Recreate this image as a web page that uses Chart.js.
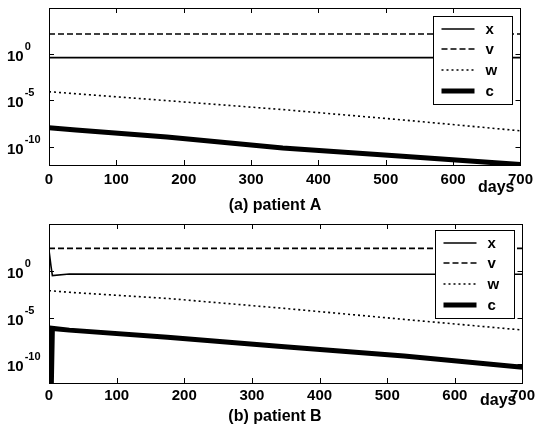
<!DOCTYPE html>
<html>
<head>
<meta charset="utf-8">
<script src="https://cdn.jsdelivr.net/npm/chart.js@4.4.1/dist/chart.umd.min.js"></script>
<style>
html,body{margin:0;padding:0;background:#fff;}
#wrap{width:539px;height:435px;}
canvas{display:block;}
</style>
</head>
<body>
<div id="wrap">
<canvas id="cA" width="539" height="217"></canvas>
<canvas id="cB" width="539" height="218"></canvas>
</div>
<script>
// ---------- data ----------
const seriesNames = ['x', 'v', 'w', 'c'];
const xTickValues = [0, 100, 200, 300, 400, 500, 600, 700];
const xTickLabels = ['0', '100', '200', '300', '400', '500', '600', '700'];
const yTickValues = [1e-10, 1e-5, 1];
const yTickBase = '10';
const yTickExponents = ['-10', '-5', '0'];

// patient A
const daysA = [0, 40, 175, 347, 525, 700];
const xA = [0.42, 0.42, 0.42, 0.42, 0.42, 0.42];
const vA = [155, 155, 155, 155, 155, 155];
const wA = [8.7e-5, 5.2e-5, 9.3e-6, 1.0e-6, 7.6e-8, 5.0e-9];
const cA = [1.1e-8, 6.3e-9, 1.1e-9, 7.0e-11, 9.0e-12, 1.1e-12];

// patient B
const daysB = [0, 3, 5, 30, 175, 348, 525, 700];
const xB = [150, 3, 0.3, 0.45, 0.42, 0.42, 0.42, 0.42];
const vB = [250, 250, 250, 250, 250, 250, 250, 250];
const wB = [7.4e-3, 7.2e-3, 7.0e-3, 5.0e-3, 1.1e-3, 9.5e-5, 6.3e-6, 4.6e-7];
const cB = [1e-14, 1e-14, 6.9e-7, 4.5e-7, 7.6e-8, 7.6e-9, 7.6e-10, 4.7e-11];

// ---------- styling ----------
const FONT = "'Liberation Sans', Arial, sans-serif";
const styles = {
  x: { borderWidth: 1.6, borderDash: [] },
  v: { borderWidth: 1.6, borderDash: [6, 3] },
  w: { borderWidth: 1.6, borderDash: [2, 3] },
  c: { borderWidth: 5, borderDash: [] }
};

function makeDatasets(days, arrays) {
  return seriesNames.map((name, k) => ({
    label: name,
    data: days.map((d, i) => ({ x: d, y: arrays[k][i] })),
    borderColor: '#000',
    backgroundColor: '#000',
    borderWidth: styles[name].borderWidth,
    borderDash: styles[name].borderDash,
    pointRadius: 0,
    tension: 0,
    fill: false
  }));
}

// frame, inward ticks, y labels with superscripts, legend, unit and caption
const decor = {
  id: 'decor',
  afterDraw(chart, args, opts) {
    const ctx = chart.ctx;
    const a = chart.chartArea;
    const sx = chart.scales.x, sy = chart.scales.y;
    ctx.save();
    ctx.strokeStyle = '#000';
    ctx.lineWidth = 1;
    ctx.setLineDash([]);
    // frame
    ctx.strokeRect(Math.round(a.left) + 0.5, Math.round(a.top) + 0.5,
      Math.round(a.right - a.left), Math.round(a.bottom - a.top));
    // inward ticks
    const tl = 5;
    ctx.beginPath();
    sx.ticks.forEach(t => {
      const px = Math.round(sx.getPixelForValue(t.value)) + 0.5;
      ctx.moveTo(px, a.bottom); ctx.lineTo(px, a.bottom - tl);
      ctx.moveTo(px, a.top); ctx.lineTo(px, a.top + tl);
    });
    sy.ticks.forEach(t => {
      const py = Math.round(sy.getPixelForValue(t.value)) + 0.5;
      ctx.moveTo(a.left, py); ctx.lineTo(a.left + tl, py);
      ctx.moveTo(a.right, py); ctx.lineTo(a.right - tl, py);
    });
    ctx.stroke();

    // y tick labels: base with superscript exponent
    ctx.fillStyle = '#000';
    ctx.textAlign = 'left';
    ctx.textBaseline = 'alphabetic';
    sy.ticks.forEach((t, i) => {
      const py = sy.getPixelForValue(t.value);
      ctx.font = 'bold 15px ' + FONT;
      ctx.fillText(yTickBase, 7, py + 7);
      const w = ctx.measureText(yTickBase).width;
      ctx.font = 'bold 11px ' + FONT;
      ctx.fillText(yTickExponents[i], 7 + w + 1, py - 4);
    });

    // legend
    const lw = 79, lh = 88;
    const lx = Math.round(a.right - 8 - lw) + 0.5;
    const ly = Math.round(a.top + opts.legendTop) + 0.5;
    ctx.fillStyle = '#fff';
    ctx.fillRect(lx, ly, lw, lh);
    ctx.strokeRect(lx, ly, lw, lh);
    ctx.font = 'bold 15px ' + FONT;
    ctx.textBaseline = 'middle';
    ctx.textAlign = 'left';
    chart.data.datasets.forEach((ds, i) => {
      const ry = Math.round(ly + 12 + i * 20.7);
      ctx.save();
      ctx.lineWidth = ds.borderWidth;
      ctx.setLineDash(ds.borderDash || []);
      ctx.beginPath();
      ctx.moveTo(lx + 8, ry); ctx.lineTo(lx + 41, ry);
      ctx.stroke();
      ctx.restore();
      ctx.fillStyle = '#000';
      ctx.fillText(ds.label, lx + 52, ry + 1);
    });

    // unit label and caption
    ctx.fillStyle = '#000';
    ctx.textBaseline = 'alphabetic';
    ctx.font = 'bold 16px ' + FONT;
    ctx.textAlign = 'right';
    ctx.fillText(opts.unit, a.right - 6, a.bottom + opts.unitOffset);
    ctx.textAlign = 'center';
    ctx.font = 'bold 16px ' + FONT;
    ctx.fillText(opts.caption, a.left + 226, a.bottom + opts.captionOffset);
    ctx.restore();
  }
};

function makeChart(id, days, arrays, caption, lay) {
  return new Chart(document.getElementById(id), {
    type: 'line',
    data: { datasets: makeDatasets(days, arrays) },
    options: {
      responsive: false,
      animation: false,
      events: [],
      layout: { padding: { top: lay.top, left: 7, right: 15, bottom: 0 } },
      plugins: {
        legend: { display: false },
        title: { display: false },
        tooltip: { enabled: false },
        decor: { caption: caption, unit: 'days', unitOffset: lay.unitOffset,
                 captionOffset: lay.captionOffset, legendTop: lay.legendTop }
      },
      scales: {
        x: {
          type: 'linear', min: 0, max: 700,
          afterBuildTicks: s => { s.ticks = xTickValues.map(v => ({ value: v })); },
          afterFit: s => { s.height = lay.xh; },
          grid: { display: false, drawTicks: false },
          border: { display: false },
          ticks: {
            autoSkip: false, maxRotation: 0, padding: lay.tickPad, color: '#000',
            font: { family: FONT, size: 15, weight: 'bold' },
            callback: (v, i) => xTickLabels[i]
          }
        },
        y: {
          type: 'logarithmic', min: 1e-12, max: 1e5,
          afterBuildTicks: s => { s.ticks = yTickValues.map(v => ({ value: v })); },
          afterFit: s => { s.width = 42; },
          grid: { display: false, drawTicks: false },
          border: { display: false },
          ticks: { display: false }
        }
      }
    },
    plugins: [decor]
  });
}

makeChart('cA', daysA, [xA, vA, wA, cA], '(a) patient A',
  { top: 8, xh: 52, tickPad: 6, unitOffset: 27, captionOffset: 45, legendTop: 8 });
makeChart('cB', daysB, [xB, vB, wB, cB], '(b) patient B',
  { top: 7, xh: 52, tickPad: 4, unitOffset: 22, captionOffset: 38, legendTop: 6 });
</script>
</body>
</html>
